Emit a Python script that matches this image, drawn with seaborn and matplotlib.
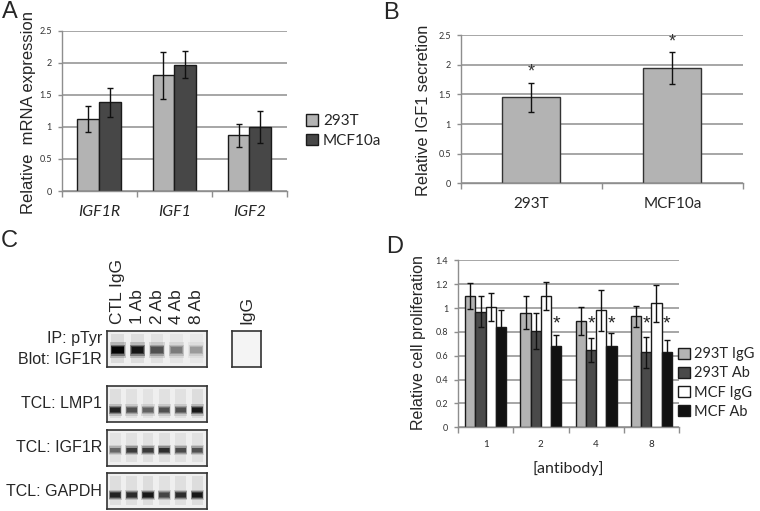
import numpy as np
import pandas as pd
import seaborn as sns
import matplotlib
matplotlib.use("Agg")
import matplotlib.pyplot as plt
from matplotlib.patches import Patch
import matplotlib.transforms as mtransforms

# ---- panel A: relative mRNA expression
genes = ["IGF1R", "IGF1", "IGF2"]
mrna_293t = [1.12, 1.80, 0.87]
mrna_293t_err = [0.20, 0.36, 0.18]
mrna_mcf = [1.38, 1.97, 1.00]
mrna_mcf_err = [0.22, 0.21, 0.25]

# ---- panel B: IGF1 secretion
cells = ["293T", "MCF10a"]
secretion = [1.45, 1.94]
secretion_err = [0.25, 0.27]

# ---- panel C: blot band intensities (0 = none, 1 = strongest)
ip_lanes = ["CTL IgG", "1 Ab", "2 Ab", "4 Ab", "8 Ab"]
ip_bands = [1.0, 0.92, 0.68, 0.52, 0.40]
igg_band = [0.0]
lmp1_bands = [0.85, 0.68, 0.62, 0.68, 0.68, 0.9]
igf1r_bands = [0.6, 0.75, 0.75, 0.8, 0.7, 0.68]
gapdh_bands = [0.85, 0.8, 0.9, 0.72, 0.8, 0.9]

# ---- panel D: relative cell proliferation
doses = ["1", "2", "4", "8"]
igg_293t = [1.10, 0.96, 0.89, 0.93]
igg_293t_err = [0.11, 0.14, 0.12, 0.09]
ab_293t = [0.97, 0.81, 0.65, 0.63]
ab_293t_err = [0.13, 0.15, 0.10, 0.13]
igg_mcf = [1.01, 1.10, 0.98, 1.04]
igg_mcf_err = [0.115, 0.115, 0.175, 0.155]
ab_mcf = [0.84, 0.68, 0.68, 0.63]
ab_mcf_err = [0.14, 0.09, 0.11, 0.10]
star_293t_ab = [False, False, True, True]
star_mcf_ab = [False, True, True, True]

W, H = 760, 511
sns.set_style("white")
plt.rcParams["font.family"] = ["Liberation Sans", "DejaVu Sans"]
XL = ["Lato", "DejaVu Sans"]  # excel-ish font
GRID = "#8e8e8e"
LIGHT, DARK = "#b3b3b3", "#474747"


def fx(x):
    return x / W


def fy(y):
    return 1 - y / H


def add_axes(x0, y0, x1, y1):
    return fig.add_axes([fx(x0), fy(y1), (x1 - x0) / W, (y1 - y0) / H])


def excel_style(ax, ymax, step, n):
    ax.set_ylim(0, ymax)
    ticks = np.arange(0, ymax + 1e-9, step)
    ax.set_yticks(ticks)
    ax.set_yticklabels([f"{t:g}" for t in ticks], family=XL, fontsize=6.5, color="#333333")
    ax.yaxis.grid(True, color=GRID, lw=1.1)
    ax.set_axisbelow(True)
    for s in ["top", "right"]:
        ax.spines[s].set_visible(False)
    for s in ["left", "bottom"]:
        ax.spines[s].set_color(GRID)
        ax.spines[s].set_linewidth(1)
    ax.tick_params(axis="y", length=3, color=GRID, width=1, pad=4, left=True)
    ax.set_xlim(-0.5, n - 0.5)
    ax.set_xticks(np.arange(-0.5, n, 1), minor=True)
    ax.tick_params(axis="x", which="minor", length=4, color=GRID, width=1, bottom=True)
    ax.tick_params(axis="x", which="major", length=0)
    ax.set_xlabel("")
    ax.set_ylabel("")


def add_errors(ax, errs_list, color="#111111", cap=2.5):
    for cont, errs in zip(ax.containers, errs_list):
        xs = [b.get_x() + b.get_width() / 2 for b in cont]
        ys = [b.get_height() for b in cont]
        ax.errorbar(xs, ys, yerr=errs, fmt="none", ecolor=color,
                    elinewidth=1, capsize=cap, capthick=1, zorder=5)


fig = plt.figure(figsize=(W / 100, H / 100), dpi=100)

# ================= A
axA = add_axes(61.7, 30.5, 287, 191)
df_a = pd.DataFrame({
    "gene": genes * 2,
    "line": ["293T"] * len(genes) + ["MCF10a"] * len(genes),
    "value": mrna_293t + mrna_mcf,
})
sns.barplot(data=df_a, x="gene", y="value", hue="line", palette=[LIGHT, DARK],
            width=0.58, saturation=1, edgecolor="#1a1a1a", linewidth=1,
            errorbar=None, legend=False, ax=axA)
add_errors(axA, [mrna_293t_err, mrna_mcf_err])
excel_style(axA, 2.5, 0.5, len(genes))
axA.set_xticks(range(len(genes)))
axA.set_xticklabels(genes, family=XL, style="italic", fontsize=11.5)
axA.tick_params(axis="x", which="major", pad=10)
fig.legend(handles=[Patch(fc=LIGHT, ec="#1a1a1a"), Patch(fc=DARK, ec="#1a1a1a")],
           labels=["293T", "MCF10a"], loc="center left",
           bbox_to_anchor=(fx(306), fy(131)), frameon=False, prop={"family": XL, "size": 11},
           handlelength=0.8, handleheight=0.8, handletextpad=0.3, labelspacing=0.35, borderpad=0,
           borderaxespad=0)
fig.text(fx(29), fy(113), "Relative  mRNA expression", rotation=90, ha="center", va="center", fontsize=12)
fig.text(fx(2), fy(12), "A", fontsize=17, va="center", ha="left")

# ================= B
axB = add_axes(460.7, 35.3, 743, 183.3)
df_b = pd.DataFrame({"cell": cells, "value": secretion})
sns.barplot(data=df_b, x="cell", y="value", color=LIGHT, width=0.41, saturation=1,
            edgecolor="#333333", linewidth=1, errorbar=None, ax=axB)
add_errors(axB, [secretion_err])
excel_style(axB, 2.5, 0.5, len(cells))
axB.set_xticks(range(len(cells)))
axB.set_xticklabels(cells, family=XL, fontsize=11)
axB.tick_params(axis="x", which="major", pad=10)
for i, (v, e) in enumerate(zip(secretion, secretion_err)):
    axB.text(i, v + e + 0.04, "*", ha="center", va="bottom", fontsize=13, color="#333333")
fig.text(fx(423), fy(110), "Relative IGF1 secretion", rotation=90, ha="center", va="center", fontsize=11.8)
fig.text(fx(383), fy(13), "B", fontsize=17, va="center", ha="left")

# ================= C
fig.text(fx(1), fy(241), "C", fontsize=17, va="center", ha="left")


def blot(ax, bands, band_y, thick, n_slots):
    ax.set_facecolor("#efefef")
    for x, v in enumerate(bands):
        # faint smear above each band
        ax.bar(x, 0.8, bottom=0.12, width=0.66, color="#b8b8b8", alpha=0.35 * v, linewidth=0)
        # band core with soft halo
        c = plt.cm.Greys(0.3 + 0.7 * v)
        for w, h, a in [(0.8, thick * 2.4, 0.18), (0.74, thick * 1.7, 0.35),
                        (0.68, thick * 1.2, 0.6), (0.6, thick * 0.8, 0.9)]:
            ax.bar(x, h, bottom=band_y - h / 2, width=w, color=c, alpha=a * min(1, v * 1.3), linewidth=0)
    ax.set_xlim(-0.5, n_slots - 0.4)
    ax.set_ylim(0, 1)
    ax.set_xticks([])
    ax.set_yticks([])
    for s in ax.spines.values():
        s.set_visible(True)
        s.set_color("#333333")
        s.set_linewidth(1.2)


ax_ip = add_axes(107, 331, 207, 367)
blot(ax_ip, ip_bands, 0.47, 0.18, 5.1)
ax_ip.set_xlim(-0.55, 4.55)
tr = mtransforms.blended_transform_factory(ax_ip.transData, ax_ip.transAxes)
for i, lab in enumerate(ip_lanes):
    ax_ip.text(i, 1.2, lab, transform=tr, rotation=90, ha="center", va="bottom", fontsize=12.5)

ax_igg = add_axes(232, 331, 261, 367)
blot(ax_igg, igg_band, 0.47, 0.16, 1)
ax_igg.set_xlim(-0.5, 0.5)
ax_igg.set_facecolor("#f4f4f4")
ax_igg.text(0, 1.2, "IgG", transform=mtransforms.blended_transform_factory(ax_igg.transData, ax_igg.transAxes),
            rotation=90, ha="center", va="bottom", fontsize=12.5)

ax_lmp = add_axes(107, 386, 207, 422)
blot(ax_lmp, lmp1_bands, 0.33, 0.14, 6)
ax_igf = add_axes(107, 430, 207, 466)
blot(ax_igf, igf1r_bands, 0.44, 0.12, 6)
ax_gap = add_axes(107, 473, 207, 509)
blot(ax_gap, gapdh_bands, 0.39, 0.12, 6)

for y, lab in [(338, "IP: pTyr"), (359, "Blot: IGF1R"), (404, "TCL: LMP1"),
               (448, "TCL: IGF1R"), (491, "TCL: GAPDH")]:
    fig.text(fx(102), fy(y), lab, ha="right", va="center", fontsize=11.5)

# ================= D
axD = add_axes(458, 260.3, 679, 427.3)
groups = ["293T IgG", "293T Ab", "MCF IgG", "MCF Ab"]
df_d = pd.DataFrame({
    "dose": doses * 4,
    "group": np.repeat(groups, len(doses)),
    "value": igg_293t + ab_293t + igg_mcf + ab_mcf,
})
pal_d = [LIGHT, "#4a4a4a", "#ffffff", "#111111"]
sns.barplot(data=df_d, x="dose", y="value", hue="group", hue_order=groups, palette=pal_d,
            width=0.74, saturation=1, edgecolor="#1a1a1a", linewidth=1,
            errorbar=None, legend=False, ax=axD)
add_errors(axD, [igg_293t_err, ab_293t_err, igg_mcf_err, ab_mcf_err], cap=2)
excel_style(axD, 1.4, 0.2, len(doses))
axD.set_xticks(range(len(doses)))
axD.set_xticklabels(doses, family=XL, fontsize=7)
axD.tick_params(axis="x", which="major", pad=9)
axD.set_xlabel("[antibody]", family=XL, fontsize=11.5, labelpad=9)
for cont, flags in [(axD.containers[1], star_293t_ab), (axD.containers[3], star_mcf_ab)]:
    for b, f in zip(cont, flags):
        if f:
            axD.text(b.get_x() + b.get_width() / 2, 0.865, "*", ha="center", va="center",
                     fontsize=14, color="#222222")
fig.legend(handles=[Patch(fc=c, ec="#1a1a1a") for c in pal_d], labels=groups,
           loc="center left", bbox_to_anchor=(fx(678), fy(383)), frameon=False,
           prop={"family": XL, "size": 10.5}, handlelength=0.8, handleheight=0.8,
           handletextpad=0.3, labelspacing=0.35, borderpad=0, borderaxespad=0)
fig.text(fx(418), fy(343), "Relative cell proliferation", rotation=90, ha="center", va="center", fontsize=11.5)
fig.text(fx(386), fy(247), "D", fontsize=17, va="center", ha="left")

fig.savefig("out.png", dpi=100)
